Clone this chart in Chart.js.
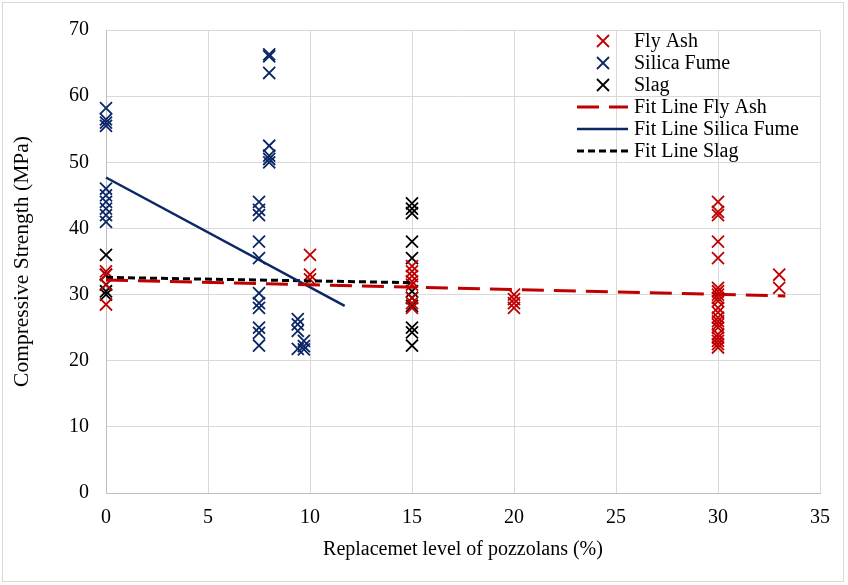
<!DOCTYPE html>
<html>
<head>
<meta charset="utf-8">
<script src="https://cdn.jsdelivr.net/npm/chart.js@4/dist/chart.umd.min.js"></script>
<style>
  html, body { margin: 0; padding: 0; background: #fff; }
  #wrap { position: relative; width: 848px; height: 585px; }
  #frame { position: absolute; left: 2px; top: 2px; width: 842px; height: 580px; border: 1px solid #d9d9d9; box-sizing: border-box; pointer-events: none; }
</style>
</head>
<body>
<div id="wrap">
  <canvas id="c" width="848" height="585"></canvas>
  <div id="frame"></div>
</div>
<script>
// Compressive strength (MPa) against replacement level (%) for each pozzolan
const flyAshX = [0, 0, 0, 0,
  10, 10, 10,
  15, 15, 15, 15, 15, 15, 15, 15,
  20, 20, 20, 20,
  30, 30, 30, 30, 30, 30, 30, 30, 30, 30, 30, 30, 30, 30, 30, 30, 30, 30, 30, 30, 30,
  33, 33];
const flyAshY = [33.5, 33, 31.5, 28.5,
  36, 33, 32.3,
  34.3, 33.5, 32.8, 32, 31.5, 29.5, 28.7, 28,
  30, 29.3, 28.7, 28,
  44, 42.5, 42, 38, 35.5, 31, 30.5, 30, 29.5, 29, 28, 27.3, 26.5, 26, 25.5, 25, 24, 23.5, 23, 22.5, 22,
  33, 31];

const silicaFumeX = [0, 0, 0, 0, 0, 0, 0, 0, 0, 0,
  7.5, 7.5, 7.5, 7.5, 7.5, 7.5, 7.5, 7.5, 7.5, 7.5, 7.5,
  8, 8, 8, 8, 8, 8, 8,
  9.4, 9.4, 9.4, 9.4,
  9.7, 9.7, 9.7];
const silicaFumeY = [58.2, 56.5, 56, 55.5, 46, 45, 44, 43, 42, 41,
  44, 42.8, 42, 38, 35.5, 30.2, 28.7, 28, 25, 24.2, 22.3,
  66.3, 66, 63.5, 52.5, 51, 50.5, 50,
  26.3, 25.5, 24.5, 21.8,
  23, 22.2, 21.7];

const slagX = [0, 0, 0, 0, 0,
  15, 15, 15, 15, 15, 15, 15, 15, 15, 15, 15];
const slagY = [36, 33, 31.5, 30.5, 30,
  43.8, 43, 42.3, 38, 35.5, 30.5, 29.5, 28.3, 25, 24.3, 22.3];

// Linear fit lines: start and end points
const fitFlyAshX = [0, 33.3];
const fitFlyAshY = [32.2, 29.8];
const fitSilicaX = [0, 11.7];
const fitSilicaY = [47.7, 28.3];
const fitSlagX = [0, 15];
const fitSlagY = [32.6, 31.8];

const xTicks = [0, 5, 10, 15, 20, 25, 30, 35];
const yTicks = [0, 10, 20, 30, 40, 50, 60, 70];

const RED = '#C00000';
const NAVY = '#0B2766';
const BLACK = '#000000';
const FONT = '"Liberation Serif", "Times New Roman", serif';
const FSIZE = 20;

const pts = (xs, ys) => xs.map((x, i) => ({ x: x, y: ys[i] }));

const markerOpts = (color) => ({
  type: 'scatter', pointStyle: 'crossRot', pointRadius: 8.5, pointHoverRadius: 8.5,
  pointBorderWidth: 1.8, borderColor: color, backgroundColor: color, showLine: false, clip: false
});
const lineOpts = (color, width, dash) => ({
  type: 'line', borderColor: color, borderWidth: width, borderDash: dash, pointRadius: 0,
  fill: false, tension: 0, order: 0, clip: false
});

const datasets = [
  Object.assign({ label: 'Fly Ash', data: pts(flyAshX, flyAshY), order: 1 }, markerOpts(RED)),
  Object.assign({ label: 'Slag', data: pts(slagX, slagY), order: 2 }, markerOpts(BLACK)),
  Object.assign({ label: 'Silica Fume', data: pts(silicaFumeX, silicaFumeY), order: 3 }, markerOpts(NAVY)),
  Object.assign({ label: 'Fit Line Fly Ash', data: pts(fitFlyAshX, fitFlyAshY) }, lineOpts(RED, 3, [22, 10])),
  Object.assign({ label: 'Fit Line Silica Fume', data: pts(fitSilicaX, fitSilicaY) }, lineOpts(NAVY, 2.5, [])),
  Object.assign({ label: 'Fit Line Slag', data: pts(fitSlagX, fitSlagY) }, lineOpts(BLACK, 3, [7, 4]))
];

// Legend drawn inside the plot, top-right
const legendItems = [
  { text: 'Fly Ash', kind: 'marker', color: RED },
  { text: 'Silica Fume', kind: 'marker', color: NAVY },
  { text: 'Slag', kind: 'marker', color: BLACK },
  { text: 'Fit Line Fly Ash', kind: 'line', color: RED, width: 3, dash: [22, 10] },
  { text: 'Fit Line Silica Fume', kind: 'line', color: NAVY, width: 2.5, dash: [] },
  { text: 'Fit Line Slag', kind: 'line', color: BLACK, width: 3, dash: [7, 4] }
];
const insideLegend = {
  id: 'insideLegend',
  afterDraw(chart) {
    const ctx = chart.ctx;
    const x0 = 577, textX = 634, y0 = 41, step = 22;
    ctx.save();
    ctx.font = FSIZE + 'px ' + FONT;
    ctx.textBaseline = 'middle';
    ctx.fillStyle = '#000';
    legendItems.forEach((it, i) => {
      const y = y0 + i * step;
      ctx.strokeStyle = it.color;
      if (it.kind === 'marker') {
        ctx.lineWidth = 1.8;
        ctx.beginPath();
        const h = 8.5 * Math.SQRT1_2;
        ctx.moveTo(603 - h, y - h); ctx.lineTo(603 + h, y + h);
        ctx.moveTo(603 - h, y + h); ctx.lineTo(603 + h, y - h);
        ctx.stroke();
      } else {
        ctx.lineWidth = it.width;
        ctx.setLineDash(it.dash);
        ctx.beginPath();
        ctx.moveTo(x0, y); ctx.lineTo(628, y);
        ctx.stroke();
        ctx.setLineDash([]);
      }
      ctx.fillText(it.text, textX, y + 1);
    });
    ctx.restore();
  }
};

new Chart(document.getElementById('c'), {
  type: 'scatter',
  data: { datasets: datasets },
  plugins: [insideLegend],
  options: {
    responsive: false,
    animation: false,
    layout: { padding: { left: 0, right: 28, top: 30, bottom: 0 } },
    plugins: { legend: { display: false }, tooltip: { enabled: false } },
    scales: {
      x: {
        type: 'linear', min: 0, max: 35,
        afterBuildTicks: (s) => { s.ticks = xTicks.map(v => ({ value: v })); },
        afterFit: (s) => { s.height = 92; },
        grid: { color: '#d9d9d9', lineWidth: 1, drawTicks: false },
        border: { color: '#bfbfbf' },
        ticks: { color: '#000', font: { family: FONT, size: FSIZE }, padding: 13, maxRotation: 0 },
        title: { display: true, text: 'Replacemet level of pozzolans (%)', color: '#000',
          font: { family: FONT, size: FSIZE }, padding: { top: 0, bottom: 23 } }
      },
      y: {
        type: 'linear', min: 0, max: 70,
        afterBuildTicks: (s) => { s.ticks = yTicks.map(v => ({ value: v })); },
        afterFit: (s) => { s.width = 106; },
        grid: { color: '#d9d9d9', lineWidth: 1, drawTicks: false },
        border: { color: '#bfbfbf' },
        ticks: { color: '#000', font: { family: FONT, size: FSIZE }, padding: 17 },
        title: { display: true, text: 'Compressive Strength (MPa)', color: '#000',
          font: { family: FONT, size: 21.5 }, padding: { top: 9, bottom: 0 } }
      }
    }
  }
});
</script>
</body>
</html>
